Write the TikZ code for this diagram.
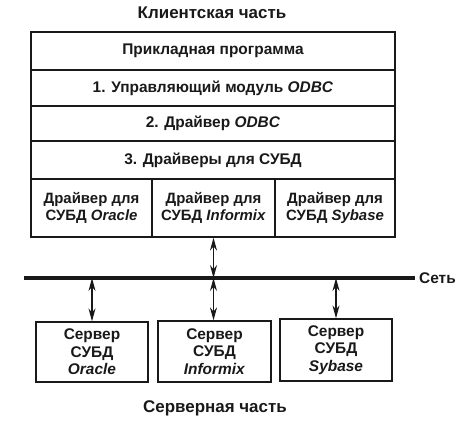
\documentclass[tikz,border=0pt]{standalone}
\usepackage{fontspec}
\setmainfont{Liberation Sans}
\usepackage{tikz}
\usetikzlibrary{arrows.meta,positioning}
\definecolor{odbc_ink}{RGB}{25,25,25}

\begin{document}
\begin{tikzpicture}[x=1bp, y=-1bp, font=\fontsize{15.5}{17.5}\selectfont\bfseries,
    every node/.style={text=odbc_ink},
    layer/.style={draw=odbc_ink, line width=1.3bp, inner sep=0pt, align=center},
    cell/.style={layer, font=\fontsize{15}{17}\selectfont\bfseries, minimum height=58bp},
    server/.style={draw=odbc_ink, line width=1.3bp, inner sep=0pt, align=center,
      minimum width=112bp},
    link/.style={{Stealth[length=13bp,width=7bp]}-{Stealth[length=13bp,width=7bp]}, line width=1.2bp, draw=odbc_ink},
    title/.style={font=\fontsize{17}{19}\selectfont\bfseries}]
  \useasboundingbox (0,0) rectangle (467,427);
  \node[title] (client) at (212,13) {Клиентская часть};
  % client side stack
  \node[layer, minimum width=364bp, minimum height=38bp] (app) at (213,51) {Прикладная программа};
  \node[layer, minimum width=364bp, minimum height=36bp] (manager) at (213,88) {1. Управляющий модуль \textit{ODBC}};
  \node[layer, minimum width=364bp, minimum height=35bp] (odbcdrv) at (213,123.5) {2. Драйвер \textit{ODBC}};
  \node[layer, minimum width=364bp, minimum height=38bp] (dbmsdrv) at (213,160) {3. Драйверы для СУБД};
  \node[cell, minimum width=121bp] (drvOra) at (91.5,208) {Драйвер для\\СУБД \textit{Oracle}};
  \node[cell, minimum width=123bp] (drvInf) at (213.5,208) {Драйвер для\\СУБД \textit{Informix}};
  \node[cell, minimum width=120bp] (drvSyb) at (335,208) {Драйвер для\\СУБД \textit{Sybase}};
  % network
  \coordinate (busL) at (24,278);
  \coordinate (busR) at (415,278);
  \draw[line width=3.5bp, odbc_ink] (busL) -- (busR);
  \node[right=4bp of busR, inner sep=0pt] (net) {Сеть};
  % servers
  \node[server, minimum height=60bp] (srvOra) at (92,352) {Сервер\\СУБД\\\textit{Oracle}};
  \node[server, minimum height=61bp, minimum width=113bp] (srvInf) at (214.5,351.5) {Сервер\\СУБД\\\textit{Informix}};
  \node[server, minimum height=62bp] (srvSyb) at (336,350) {Сервер\\СУБД\\\textit{Sybase}};
  \draw[link] (drvInf.south) -- (drvInf.south |- busL);
  \draw[link] (srvOra.north |- busL) -- (srvOra.north);
  \draw[link] (drvInf.south |- busL) -- (drvInf.south |- srvInf.north);
  \draw[link] (srvSyb.north |- busL) -- (srvSyb.north);
  \node[title] (server) at (215,408) {Серверная часть};
\end{tikzpicture}
\end{document}
